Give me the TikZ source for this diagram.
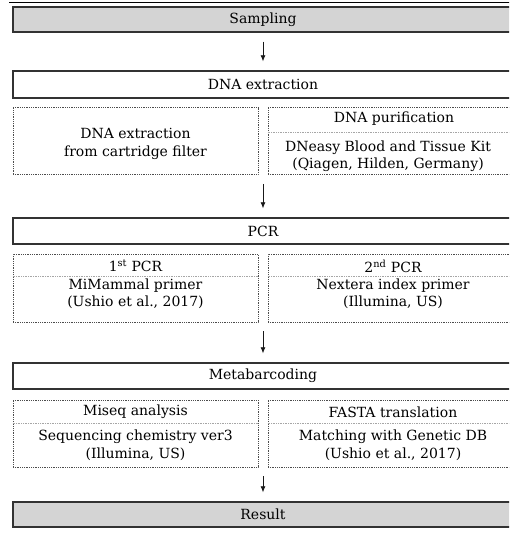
\documentclass[tikz,border=0pt]{standalone}
\usepackage{fontspec}
\setmainfont{DejaVu Serif}
\usepackage{tikz}
\definecolor{boxgrey}{RGB}{212, 212, 212}
\definecolor{rimgrey}{RGB}{50, 50, 50}
\usetikzlibrary{arrows.meta, calc}

\begin{document}
\begin{tikzpicture}[x=1pt, y=-1pt,
					>={Latex[length=6pt, width=5pt]},   %arrow tips
					mainbox/.style={draw=rimgrey, line width=1.4pt, minimum width=500pt, minimum height=25pt, inner sep=0pt},
					greybox/.style={mainbox, fill=boxgrey},
					subbox/.style={draw=black!70, densely dotted, line width=0.8pt, minimum width=245pt, inner sep=0pt},
					divider/.style={draw=black!35, densely dotted, line width=0.7pt},
					flow/.style={->, black!90, line width=0.7pt, shorten <=9pt, shorten >=9pt},
					font=\fontsize{14}{17.5}\selectfont]
					%picture frame
					\useasboundingbox (0,0) rectangle (509,538);
					\clip (0,0) rectangle (509,538);
					\draw[line width=1.6pt] (9,2.5) -- (513,2.5);
					% main steps
					\node[greybox] (sampling) at (263,19.5) {Sampling};
					\node[mainbox, minimum height=27pt] (dnaext) at (263,84.5) {DNA extraction};
					\node[mainbox, minimum height=26pt] (pcr) at (263,231) {PCR};
					\node[mainbox, minimum height=26pt] (meta) at (263,376) {Metabarcoding};
					\node[greybox] (result) at (263,514.5) {Result};
					% sub boxes
					\node[subbox, minimum height=67pt] (extL) at (135.5,141) {};
					\node[subbox, minimum height=67pt] (extR) at (390.5,141) {};
					\node[subbox, minimum height=68pt] (pcrL) at (135.5,288) {};
					\node[subbox, minimum height=68pt] (pcrR) at (390.5,288) {};
					\node[subbox, minimum height=67pt] (metaL) at (135.5,433.5) {};
					\node[subbox, minimum height=67pt] (metaR) at (390.5,433.5) {};
					% dividers
					\draw[divider] (extR.west |- 0,132) -- (extR.east |- 0,132);
					\foreach \b in {pcrL,pcrR} \draw[divider] (\b.west |- 0,276) -- (\b.east |- 0,276);
					\foreach \b in {metaL,metaR} \draw[divider] (\b.west |- 0,423) -- (\b.east |- 0,423);
					% texts
					\node[align=center] (extLtxt) at (135.5,144) {DNA extraction\\from cartridge filter};
					\node (extRhead) at (394,119) {DNA purification};
					\node[align=center] (extRtxt) at (388,156) {DNeasy Blood and Tissue Kit\\(Qiagen, Hilden, Germany)};
					\node (pcrLhead) at (135.5,266) {1\textsuperscript{st} PCR};
					\node[align=center] (pcrLtxt) at (135.5,294) {MiMammal primer\\(Ushio et al., 2017)};
					\node (pcrRhead) at (393,266) {2\textsuperscript{nd} PCR};
					\node[align=center] (pcrRtxt) at (393,294) {Nextera index primer\\(Illumina, US)};
					\node (metaLhead) at (135.5,412) {Miseq analysis};
					\node[align=center] (metaLtxt) at (135.5,445.5) {Sequencing chemistry ver3\\(Illumina, US)};
					\node (metaRhead) at (393,412) {FASTA translation};
					\node[align=center] (metaRtxt) at (393,445.5) {Matching with Genetic DB\\(Ushio et al., 2017)};
					% arrows
					\draw[flow] (sampling) -- (dnaext);
					\draw[flow] (pcr.north |- extL.south) -- (pcr.north);
					\draw[flow] (meta.north |- pcrL.south) -- (meta.north);
					\draw[flow] (result.north |- metaL.south) -- (result.north);
\end{tikzpicture}
\end{document}
